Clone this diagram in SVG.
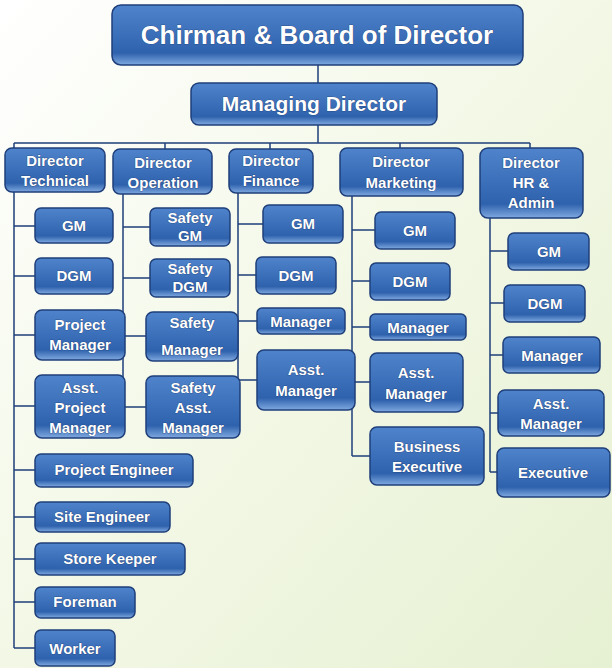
<svg xmlns="http://www.w3.org/2000/svg" width="612" height="668" viewBox="0 0 612 668">
<defs>
<linearGradient id="bg" x1="0" y1="0" x2="1" y2="1"><stop offset="0" stop-color="#ffffff"/><stop offset="0.5" stop-color="#f3f8e6"/><stop offset="1" stop-color="#e6f0d2"/></linearGradient>
<linearGradient id="bx" x1="0" y1="0" x2="0" y2="1"><stop offset="0" stop-color="#4f84cc"/><stop offset="0.8" stop-color="#2f62ad"/><stop offset="1" stop-color="#7fa9e0"/></linearGradient>
</defs>
<style>
.b{fill:url(#bx);stroke:#1f3f7a;stroke-width:1.5}
.t{fill:#fff;font-family:"Liberation Sans",Arial,sans-serif;font-weight:bold;font-size:15px;text-anchor:middle;stroke:#1a3466;stroke-width:0.6;paint-order:stroke}
.c{fill:none;stroke:#1f3f7a;stroke-width:1.5}
</style>
<rect width="612" height="668" fill="url(#bg)"/>
<g id="connectors" class="c">
<path d="M318 65V83M318 125V143M14 143H530M14 143V148M165 143V149M270 143V149M400 143V148M530 143V148"/>
<path d="M14 192V648M14 226H35M14 276H35M14 335H35M14 406H35M14 470H35M14 517H35M14 559H35M14 602H35M14 648H35"/>
<path d="M123 194V407M123 227H150M123 278H150M123 336H146M123 407H146"/>
<path d="M238 193V380M238 224H263M238 275H256M238 321H257M238 380H257"/>
<path d="M352 196V456M352 230H375M352 281H370M352 327H370M352 382H370M352 456H370"/>
<path d="M490 218V472M490 251H508M490 303H504M490 355H503M490 413H498M490 472H497"/>
</g>
<g id="chairman"><rect class="b" x="112" y="5" width="411" height="60" rx="9"/><text class="t" x="317" y="44" style="font-size:26px">Chirman &amp; Board of Director</text></g>
<g id="md"><rect class="b" x="191" y="83" width="246" height="42" rx="8"/><text class="t" x="314" y="111" style="font-size:21px">Managing Director</text></g>
<g id="dtech"><rect class="b" x="5" y="148" width="100" height="44" rx="7"/><text class="t" x="55" y="166">Director</text><text class="t" x="55" y="186">Technical</text></g>
<g id="dop"><rect class="b" x="113" y="149" width="99" height="45" rx="7"/><text class="t" x="163" y="168">Director</text><text class="t" x="163" y="188">Operation</text></g>
<g id="dfin"><rect class="b" x="229" y="149" width="84" height="44" rx="7"/><text class="t" x="271" y="166">Director</text><text class="t" x="271" y="186">Finance</text></g>
<g id="dmkt"><rect class="b" x="340" y="148" width="123" height="48" rx="7"/><text class="t" x="401" y="167">Director</text><text class="t" x="401" y="188">Marketing</text></g>
<g id="dhr"><rect class="b" x="480" y="148" width="103" height="70" rx="8"/><text class="t" x="531" y="168">Director</text><text class="t" x="531" y="188">HR &amp;</text><text class="t" x="531" y="208">Admin</text></g>

<g id="t1"><rect class="b" x="35" y="208" width="78" height="35" rx="6"/><text class="t" x="74" y="231">GM</text></g>
<g id="t2"><rect class="b" x="35" y="258" width="78" height="36" rx="6"/><text class="t" x="74" y="281">DGM</text></g>
<g id="t3"><rect class="b" x="35" y="310" width="90" height="50" rx="7"/><text class="t" x="80" y="330">Project</text><text class="t" x="80" y="350">Manager</text></g>
<g id="t4"><rect class="b" x="35" y="375" width="90" height="63" rx="7"/><text class="t" x="80" y="393">Asst.</text><text class="t" x="80" y="413">Project</text><text class="t" x="80" y="433">Manager</text></g>
<g id="t5"><rect class="b" x="35" y="454" width="158" height="33" rx="6"/><text class="t" x="114" y="475">Project Engineer</text></g>
<g id="t6"><rect class="b" x="35" y="502" width="135" height="30" rx="6"/><text class="t" x="102" y="522">Site Engineer</text></g>
<g id="t7"><rect class="b" x="35" y="543" width="150" height="32" rx="6"/><text class="t" x="110" y="564">Store Keeper</text></g>
<g id="t8"><rect class="b" x="35" y="587" width="100" height="31" rx="6"/><text class="t" x="85" y="607">Foreman</text></g>
<g id="t9"><rect class="b" x="35" y="630" width="80" height="36" rx="6"/><text class="t" x="75" y="654">Worker</text></g>

<g id="o1"><rect class="b" x="150" y="208" width="80" height="38" rx="6"/><text class="t" x="190" y="223">Safety</text><text class="t" x="190" y="241">GM</text></g>
<g id="o2"><rect class="b" x="150" y="259" width="80" height="38" rx="6"/><text class="t" x="190" y="274">Safety</text><text class="t" x="190" y="292">DGM</text></g>
<g id="o3"><rect class="b" x="146" y="312" width="92" height="49" rx="7"/><text class="t" x="192" y="328">Safety</text><text class="t" x="192" y="355">Manager</text></g>
<g id="o4"><rect class="b" x="146" y="376" width="94" height="62" rx="7"/><text class="t" x="193" y="393">Safety</text><text class="t" x="193" y="413">Asst.</text><text class="t" x="193" y="433">Manager</text></g>

<g id="f1"><rect class="b" x="263" y="205" width="80" height="38" rx="6"/><text class="t" x="303" y="229">GM</text></g>
<g id="f2"><rect class="b" x="256" y="257" width="80" height="37" rx="6"/><text class="t" x="296" y="281">DGM</text></g>
<g id="f3"><rect class="b" x="257" y="308" width="88" height="26" rx="5"/><text class="t" x="301" y="327">Manager</text></g>
<g id="f4"><rect class="b" x="257" y="350" width="98" height="60" rx="7"/><text class="t" x="306" y="375">Asst.</text><text class="t" x="306" y="396">Manager</text></g>

<g id="m1"><rect class="b" x="375" y="212" width="80" height="37" rx="6"/><text class="t" x="415" y="236">GM</text></g>
<g id="m2"><rect class="b" x="370" y="263" width="80" height="37" rx="6"/><text class="t" x="410" y="287">DGM</text></g>
<g id="m3"><rect class="b" x="370" y="314" width="96" height="26" rx="5"/><text class="t" x="418" y="333">Manager</text></g>
<g id="m4"><rect class="b" x="370" y="353" width="93" height="59" rx="7"/><text class="t" x="416" y="378">Asst.</text><text class="t" x="416" y="399">Manager</text></g>
<g id="m5"><rect class="b" x="370" y="427" width="114" height="58" rx="7"/><text class="t" x="427" y="452">Business</text><text class="t" x="427" y="472">Executive</text></g>

<g id="h1"><rect class="b" x="508" y="233" width="81" height="37" rx="6"/><text class="t" x="549" y="257">GM</text></g>
<g id="h2"><rect class="b" x="504" y="285" width="81" height="37" rx="6"/><text class="t" x="545" y="309">DGM</text></g>
<g id="h3"><rect class="b" x="503" y="337" width="97" height="36" rx="6"/><text class="t" x="552" y="361">Manager</text></g>
<g id="h4"><rect class="b" x="498" y="390" width="106" height="46" rx="7"/><text class="t" x="551" y="409">Asst.</text><text class="t" x="551" y="429">Manager</text></g>
<g id="h5"><rect class="b" x="497" y="448" width="113" height="49" rx="7"/><text class="t" x="553" y="478">Executive</text></g>
</svg>
